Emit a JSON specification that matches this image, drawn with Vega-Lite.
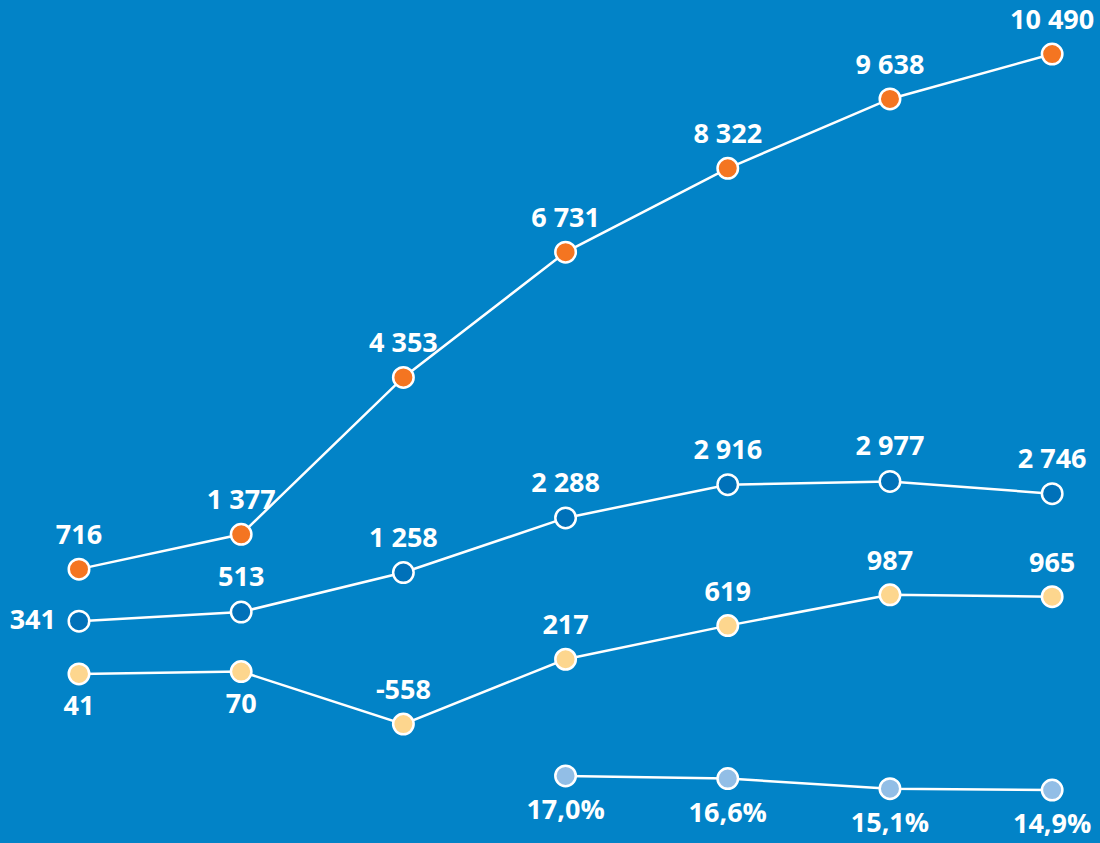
{
  "$schema": "https://vega.github.io/schema/vega-lite/v6.json",
  "width": 1100,
  "height": 843,
  "autosize": "none",
  "padding": 0,
  "background": "#0283C7",
  "config": {
    "view": {"stroke": null},
    "locale": {"number": {"decimal": ",", "thousands": " ", "grouping": [3], "currency": ["", ""], "minus": "-", "percent": "%"}},
    "text": {"font": "Open Sans", "fontWeight": "bold", "fontSize": 27, "color": "white"}
  },
  "data": {"values": [
    {"step": 1, "series": "Series 1", "value": 716},
    {"step": 2, "series": "Series 1", "value": 1377},
    {"step": 3, "series": "Series 1", "value": 4353},
    {"step": 4, "series": "Series 1", "value": 6731},
    {"step": 5, "series": "Series 1", "value": 8322},
    {"step": 6, "series": "Series 1", "value": 9638},
    {"step": 7, "series": "Series 1", "value": 10490},
    {"step": 1, "series": "Series 2", "value": 341},
    {"step": 2, "series": "Series 2", "value": 513},
    {"step": 3, "series": "Series 2", "value": 1258},
    {"step": 4, "series": "Series 2", "value": 2288},
    {"step": 5, "series": "Series 2", "value": 2916},
    {"step": 6, "series": "Series 2", "value": 2977},
    {"step": 7, "series": "Series 2", "value": 2746},
    {"step": 1, "series": "Series 3", "value": 41},
    {"step": 2, "series": "Series 3", "value": 70},
    {"step": 3, "series": "Series 3", "value": -558},
    {"step": 4, "series": "Series 3", "value": 217},
    {"step": 5, "series": "Series 3", "value": 619},
    {"step": 6, "series": "Series 3", "value": 987},
    {"step": 7, "series": "Series 3", "value": 965},
    {"step": 4, "series": "Series 4", "value": 0.170},
    {"step": 5, "series": "Series 4", "value": 0.166},
    {"step": 6, "series": "Series 4", "value": 0.151},
    {"step": 7, "series": "Series 4", "value": 0.149}
  ]},
  "encoding": {
    "x": {"field": "step", "type": "quantitative", "scale": {"domain": [0.513, 7.295], "nice": false, "zero": false}, "axis": null}
  },
  "layer": [
    {
      "transform": [{"filter": "datum.series === 'Series 1'"}],
      "encoding": {"y": {"field": "value", "type": "quantitative", "scale": {"domain": [-4480, 11515], "nice": false, "zero": false}, "axis": null}},
      "layer": [
        {"mark": {"type": "line", "color": "white", "strokeWidth": 2.5}},
        {"mark": {"type": "point", "shape": "circle", "filled": true, "fill": "#F47521", "stroke": "white", "strokeWidth": 2.5, "opacity": 1, "size": 420}},
        {"mark": {"type": "text", "dy": -33, "baseline": "middle"}, "encoding": {"text": {"field": "value", "format": ",d"}}}
      ]
    },
    {
      "transform": [{"filter": "datum.series === 'Series 2'"}],
      "encoding": {"y": {"field": "value", "type": "quantitative", "scale": {"domain": [-3845, 12060], "nice": false, "zero": false}, "axis": null}},
      "layer": [
        {"mark": {"type": "line", "color": "white", "strokeWidth": 2.5}},
        {"mark": {"type": "point", "shape": "circle", "filled": true, "fill": "#0071B9", "stroke": "white", "strokeWidth": 2.5, "opacity": 1, "size": 420}},
        {"transform": [{"filter": "datum.step === 1"}], "mark": {"type": "text", "align": "right", "dx": -23, "baseline": "middle"}, "encoding": {"text": {"field": "value", "format": ",d"}}},
        {"transform": [{"filter": "datum.step > 1"}], "mark": {"type": "text", "dy": -34, "baseline": "middle"}, "encoding": {"text": {"field": "value", "format": ",d"}}}
      ]
    },
    {
      "transform": [{"filter": "datum.series === 'Series 3'"}],
      "encoding": {"y": {"field": "value", "type": "quantitative", "scale": {"domain": [-1980, 8099], "nice": false, "zero": false}, "axis": null}},
      "layer": [
        {"mark": {"type": "line", "color": "white", "strokeWidth": 2.5}},
        {"mark": {"type": "point", "shape": "circle", "filled": true, "fill": "#FDD68E", "stroke": "white", "strokeWidth": 2.5, "opacity": 1, "size": 420}},
        {"transform": [{"filter": "datum.step <= 2"}], "mark": {"type": "text", "dy": 33, "baseline": "middle"}, "encoding": {"text": {"field": "value", "format": ",d"}}},
        {"transform": [{"filter": "datum.step > 2"}], "mark": {"type": "text", "dy": -33, "baseline": "middle"}, "encoding": {"text": {"field": "value", "format": ",d"}}}
      ]
    },
    {
      "transform": [{"filter": "datum.series === 'Series 4'"}],
      "encoding": {"y": {"field": "value", "type": "quantitative", "scale": {"domain": [0.07042, 1.32117], "nice": false, "zero": false}, "axis": null}},
      "layer": [
        {"mark": {"type": "line", "color": "white", "strokeWidth": 2.5}},
        {"mark": {"type": "point", "shape": "circle", "filled": true, "fill": "#92BEE6", "stroke": "white", "strokeWidth": 2.5, "opacity": 1, "size": 420}},
        {"mark": {"type": "text", "dy": 35, "baseline": "middle"}, "encoding": {"text": {"field": "value", "format": ".1%"}}}
      ]
    }
  ],
  "resolve": {"scale": {"y": "independent"}}
}
